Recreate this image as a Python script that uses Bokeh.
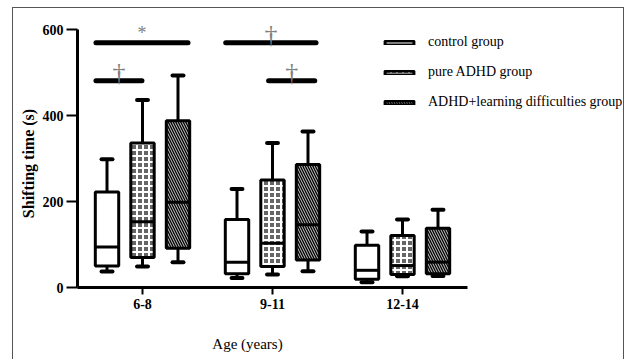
import math
from bokeh.plotting import figure
from bokeh.models import (ColumnDataSource, Range1d, FixedTicker, LabelSet, Label, LinearAxis)
from bokeh.core.properties import value
from bokeh.embed import file_html
from bokeh.resources import INLINE

# ---------------- data ----------------
groups = ["6-8", "9-11", "12-14"]
series = ["control group", "pure ADHD group", "ADHD+learning difficulties group"]

control_lo = [37, 22, 12]
control_q1 = [50, 32, 19]
control_med = [94, 59, 40]
control_q3 = [222, 158, 98]
control_hi = [298, 229, 130]

pure_lo = [49, 30, 26]
pure_q1 = [70, 49, 30]
pure_med = [153, 103, 51]
pure_q3 = [336, 250, 121]
pure_hi = [436, 336, 158]

ld_lo = [59, 38, 27]
ld_q1 = [91, 64, 32]
ld_med = [198, 146, 59]
ld_q3 = [388, 286, 138]
ld_hi = [493, 363, 181]

y_ticks = [0, 200, 400, 600]

# significance bars (group index, start/end offset from group centre, height, symbol)
sig_group = [0, 0, 1, 1]
sig_x0 = [-0.358, -0.358, -0.36, -0.03]
sig_x1 = [0.35, -0.004, 0.335, 0.325]
sig_y = [569, 481, 569, 481]
sig_sym = ["*", "\u2020", "\u2020", "\u2020"]

# ---------------- layout (pixels) ----------------
CANVAS_L, CANVAS_T, W, H = 13, 8, 612, 352
AX_L, AX_R = 77, 467      # x = 0 .. 3
AX_B, AX_T = 287, 29      # y = 0 .. 600
SX = (AX_R - AX_L) / 3.0
SY = (AX_B - AX_T) / 600.0

def px_x(px):
    return (px - AX_L) / SX

def px_y(py):
    return (AX_B - py) / SY

SERIF = "Liberation Serif"

p = figure(x_range=Range1d(px_x(CANVAS_L), px_x(CANVAS_L + W)),
           y_range=Range1d(px_y(CANVAS_T + H), px_y(CANVAS_T)),
           width=W, height=H, title=None, x_axis_type=None, y_axis_type=None,
           output_backend="svg", toolbar_location=None,
           min_border_left=0, min_border_right=0, min_border_top=0, min_border_bottom=0,
           styles={"border-left": "1px solid #555", "border-top": "1px solid #555",
                   "border-right": "1px solid #555", "margin-left": "12px", "margin-top": "7px"})
p.grid.visible = False
p.outline_line_color = None
p.background_fill_color = "white"
p.border_fill_color = "white"

offsets = [-0.273, 0.0, 0.273]
bw = 0.18
styles = [
    dict(fill_color="white"),
    dict(fill_color="#666666", hatch_pattern="+", hatch_color="white", hatch_scale=6.0, hatch_weight=2.0),
    dict(fill_color="black", hatch_pattern="\\", hatch_color="white", hatch_scale=5.0, hatch_weight=0.8),
]
data = [
    (control_lo, control_q1, control_med, control_q3, control_hi),
    (pure_lo, pure_q1, pure_med, pure_q3, pure_hi),
    (ld_lo, ld_q1, ld_med, ld_q3, ld_hi),
]

centers = [i + 0.5 for i in range(len(groups))]
for name, off, st, (lo, q1, med, q3, hi) in zip(series, offsets, styles, data):
    xc = [c + off for c in centers]
    src = ColumnDataSource(dict(x=xc, xl=[x - bw / 2 for x in xc], xr=[x + bw / 2 for x in xc],
                                cl=[x - 0.042 for x in xc], cr=[x + 0.042 for x in xc],
                                lo=lo, q1=q1, med=med, q3=q3, hi=hi))
    p.segment(x0="x", x1="x", y0="q3", y1="hi", source=src, line_color="black", line_width=3)
    p.segment(x0="x", x1="x", y0="q1", y1="lo", source=src, line_color="black", line_width=3)
    for yk in ("hi", "lo"):
        p.segment(x0="cl", x1="cr", y0=yk, y1=yk, source=src, line_color="black",
                  line_width=4, line_cap="round")
    p.vbar(x="x", width=bw, top="q3", bottom="q1", source=src,
           line_color="black", line_width=3, legend_label=name, **st)
    p.segment(x0="xl", x1="xr", y0="med", y1="med", source=src, line_color="black", line_width=3)

# significance bars and symbols
sx0 = [centers[g] + a for g, a in zip(sig_group, sig_x0)]
sx1 = [centers[g] + b for g, b in zip(sig_group, sig_x1)]
sig_src = ColumnDataSource(dict(x0=sx0, x1=sx1, xm=[(a + b) / 2 for a, b in zip(sx0, sx1)],
                                y=sig_y, t=sig_sym))
p.segment(x0="x0", x1="x1", y0="y", y1="y", source=sig_src, line_color="black",
          line_width=5, line_cap="round")
star_idx = [i for i, s in enumerate(sig_sym) if s == "*"]
dag_idx = [i for i, s in enumerate(sig_sym) if s != "*"]
for idx, size, yoff in ((star_idx, "18px", 4), (dag_idx, "26px", 0)):
    s = ColumnDataSource({k: [sig_src.data[k][i] for i in idx] for k in ("xm", "y", "t")})
    p.add_layout(LabelSet(x="xm", y="y", text="t", source=s, text_font=value(SERIF),
                          text_font_size=size, text_color="#808080", text_align="center",
                          text_baseline="alphabetic", y_offset=yoff))

# axes
xax = LinearAxis(ticker=FixedTicker(ticks=centers),
                 major_label_overrides={c: g for c, g in zip(centers, groups)})
yax = LinearAxis(ticker=FixedTicker(ticks=y_ticks))
p.add_layout(xax, "below")
p.add_layout(yax, "left")
xax.fixed_location = 0
yax.fixed_location = 0
xax.bounds = (0, 3)
yax.bounds = (0, 600)
for ax in (xax, yax):
    ax.axis_line_width = 3
    ax.axis_line_color = "black"
    ax.major_tick_line_width = 2
    ax.major_tick_line_color = "black"
    ax.major_tick_in = 0
    ax.minor_tick_line_color = None
    ax.major_label_text_font = SERIF
    ax.major_label_text_font_style = "bold"
    ax.major_label_text_font_size = "14px"
    ax.major_label_text_color = "black"
yax.major_tick_out = 11
yax.major_label_standoff = 3
xax.major_tick_out = 7
xax.major_label_standoff = 4

p.add_layout(Label(x=px_x(28), y=px_y(163), text="Shifting time (s)", angle=math.pi / 2,
                   text_font=SERIF, text_font_style="bold", text_font_size="16px",
                   text_color="black", text_align="center", text_baseline="middle"))
p.add_layout(Label(x=px_x(247), y=px_y(343), text="Age (years)", text_font=SERIF,
                   text_font_size="15px", text_color="black", text_align="center",
                   text_baseline="middle"))

# legend
lg = p.legend[0]
lg.location = (381 - CANVAS_L, CANVAS_T + H - 112)
lg.padding = 0
lg.margin = 0
lg.border_line_color = None
lg.background_fill_alpha = 0
lg.glyph_width = 36
lg.glyph_height = 5
lg.label_height = 20
lg.spacing = 10
lg.label_standoff = 11
lg.label_text_font = SERIF
lg.label_text_font_size = "14px"
lg.label_text_color = "black"

open("out.html", "w").write(file_html(p, INLINE))
